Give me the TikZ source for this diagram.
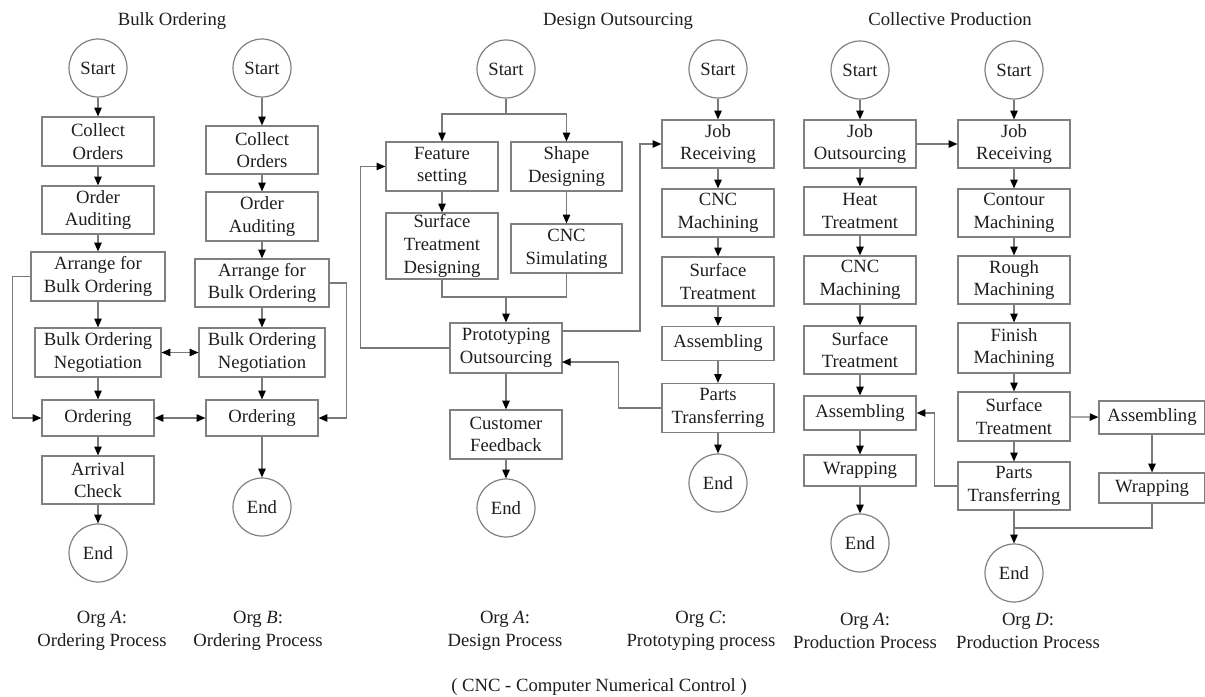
\documentclass[tikz,border=0pt]{standalone}
\usepackage{fontspec}
\setmainfont{Liberation Serif}
\usetikzlibrary{arrows.meta}
\definecolor{boxgray}{HTML}{808080}
\definecolor{linegray}{HTML}{7A7A7A}
\definecolor{txt}{HTML}{1E1E1E}
\newcommand{\fs}{\fontsize{14pt}{17pt}\selectfont}
\tikzset{
  box/.style={draw=boxgray, line width=0.9pt, align=center, inner sep=0pt, font=\fs, text=txt},
  sz/.style 2 args={minimum width=#1*0.75pt, minimum height=#2*0.75pt},
  term/.style={circle, draw=boxgray, line width=0.9pt, minimum size=43.5pt, inner sep=0pt, font=\fs, text=txt},
  tip/.tip={Triangle[length=6.5pt, width=5.5pt, color=black, fill=black]},
  flow/.style={draw=linegray, line width=0.9pt, -tip},
  dflow/.style={draw=linegray, line width=0.9pt, tip-tip},
  link/.style={draw=linegray, line width=0.9pt},
  lbl/.style={align=center, font=\fs, text=txt, inner sep=0pt},
}
\begin{document}
\begin{tikzpicture}[x=0.75pt, y=-0.75pt]
\useasboundingbox (0,0) rectangle (1205,696);

% section titles
\node[lbl] (t1) at (172,21) {Bulk Ordering};
\node[lbl] (t2) at (618,21) {Design Outsourcing};
\node[lbl] (t3) at (950,19) {Collective Production};

% ---------- Org A: ordering process ----------
\node[term] (sA1) at (98,68) {Start};
\node[box, sz={112}{49}] (a1) at (98,141.5) {Collect\\Orders};
\node[box, sz={112}{48}] (a2) at (98,210) {Order\\Auditing};
\node[box, sz={134}{49}] (a3) at (98,276.5) {Arrange for\\Bulk Ordering};
\node[box, sz={126}{49}] (a4) at (98,352.5) {Bulk Ordering\\Negotiation};
\node[box, sz={112}{36}] (a5) at (98,418) {Ordering};
\node[box, sz={112}{48}] (a6) at (98,480) {Arrival\\Check};
\node[term] (eA1) at (98,553) {End};

\draw[flow] (sA1) -- (a1);
\draw[flow] (a1) -- (a2);
\draw[flow] (a2) -- (a3);
\draw[flow] (a3) -- (a4);
\draw[flow] (a4) -- (a5);
\draw[flow] (a5) -- (a6);
\draw[flow] (a6) -- (eA1);
\draw[flow] (a3.west) -- ++(-18,0) |- (a5.west);

% ---------- Org B: ordering process ----------
\node[term] (sB1) at (262,68) {Start};
\node[box, sz={112}{48}] (b1) at (262,150) {Collect\\Orders};
\node[box, sz={112}{49}] (b2) at (262,216.5) {Order\\Auditing};
\node[box, sz={134}{48}] (b3) at (262,283) {Arrange for\\Bulk Ordering};
\node[box, sz={126}{49}] (b4) at (262,352.5) {Bulk Ordering\\Negotiation};
\node[box, sz={112}{36}] (b5) at (262,418) {Ordering};
\node[term] (eB1) at (262,507) {End};

\draw[flow] (sB1) -- (b1);
\draw[flow] (b1) -- (b2);
\draw[flow] (b2) -- (b3);
\draw[flow] (b3) -- (b4);
\draw[flow] (b4) -- (b5);
\draw[flow] (b5) -- (eB1);
\draw[flow] (b3.east) -- ++(17,0) |- (b5.east);
\draw[dflow] (a4.east) -- (b4.west);
\draw[dflow] (a5.east) -- (b5.west);

% ---------- Org A: design process ----------
\node[term] (sA2) at (506,69) {Start};
\node[box, sz={112}{49}] (d1) at (442,166.5) {Feature\\setting};
\node[box, sz={111}{49}] (d2) at (566.5,166.5) {Shape\\Designing};
\node[box, sz={112}{66}] (d3) at (442,246) {Surface\\Treatment\\Designing};
\node[box, sz={111}{49}] (d4) at (566.5,248.5) {CNC\\Simulating};
\node[box, sz={112}{50}] (d5) at (506,348) {Prototyping\\Outsourcing};
\node[box, sz={112}{49}] (d6) at (506,434.5) {Customer\\Feedback};
\node[term] (eA2) at (506,508) {End};

\coordinate (sp) at (506,114);
\coordinate (mg) at (506,297);
\coordinate (d5out) at (562,331);
\coordinate (d5in) at (562,362);

\draw[link] (sA2) -- (sp);
\draw[flow] (sp) -| (d1.north);
\draw[flow] (sp) -| (d2.north);
\draw[flow] (d1) -- (d3);
\draw[flow] (d2) -- (d4);
\draw[link] (d3.south) |- (mg);
\draw[link] (d4.south) |- (mg);
\draw[flow] (mg) -- (d5.north);
\draw[flow] (d5) -- (d6);
\draw[flow] (d6) -- (eA2);
\draw[flow] (d5.west) -- ++(-89,0) |- (d1.west);

% ---------- Org C: prototyping process ----------
\node[term] (sC) at (718,69) {Start};
\node[box, sz={112}{48}] (c1) at (718,144) {Job\\Receiving};
\node[box, sz={112}{48}] (c2) at (718,213) {CNC\\Machining};
\node[box, sz={112}{49}] (c3) at (718,281.5) {Surface\\Treatment};
\node[box, sz={112}{34}] (c4) at (718,343.5) {Assembling};
\node[box, sz={112}{49}] (c5) at (718,408) {Parts\\Transferring};
\node[term] (eC) at (718,483) {End};

\draw[flow] (sC) -- (c1);
\draw[flow] (c1) -- (c2);
\draw[flow] (c2) -- (c3);
\draw[flow] (c3) -- (c4);
\draw[flow] (c4) -- (c5);
\draw[flow] (c5) -- (eC);
\draw[flow] (d5out) -- ++(78,0) |- (c1.west);
\draw[flow] (c5.west) -- ++(-43,0) |- (d5in);

% ---------- Org A: production process ----------
\node[term] (sA3) at (860,70) {Start};
\node[box, sz={112}{48}] (p1) at (860,144) {Job\\Outsourcing};
\node[box, sz={112}{48}] (p2) at (860,211) {Heat\\Treatment};
\node[box, sz={112}{48}] (p3) at (860,280) {CNC\\Machining};
\node[box, sz={112}{48}] (p4) at (860,350) {Surface\\Treatment};
\node[box, sz={112}{34}] (p5) at (860,413) {Assembling};
\node[box, sz={112}{31}] (p6) at (860,470.5) {Wrapping};
\node[term] (eA3) at (860,543) {End};

\draw[flow] (sA3) -- (p1);
\draw[flow] (p1) -- (p2);
\draw[flow] (p2) -- (p3);
\draw[flow] (p3) -- (p4);
\draw[flow] (p4) -- (p5);
\draw[flow] (p5) -- (p6);
\draw[flow] (p6) -- (eA3);

% ---------- Org D: production process ----------
\node[term] (sD) at (1014,70) {Start};
\node[box, sz={112}{48}] (q1) at (1014,144) {Job\\Receiving};
\node[box, sz={112}{48}] (q2) at (1014,213) {Contour\\Machining};
\node[box, sz={112}{48}] (q3) at (1014,280) {Rough\\Machining};
\node[box, sz={112}{50}] (q4) at (1014,348) {Finish\\Machining};
\node[box, sz={112}{49}] (q5) at (1014,416.5) {Surface\\Treatment};
\node[box, sz={112}{48}] (q6) at (1014,486) {Parts\\Transferring};
\node[term] (eD) at (1014,573) {End};
\node[box, sz={106}{33}] (r1) at (1152,417.5) {Assembling};
\node[box, sz={106}{30}] (r2) at (1152,488) {Wrapping};

\coordinate (jn) at (1014,528);

\draw[flow] (sD) -- (q1);
\draw[flow] (q1) -- (q2);
\draw[flow] (q2) -- (q3);
\draw[flow] (q3) -- (q4);
\draw[flow] (q4) -- (q5);
\draw[flow] (q5) -- (q6);
\draw[flow] (q6) -- (eD);
\draw[flow] (p1) -- (q1);
\draw[flow] (q5) -- (r1);
\draw[flow] (r1) -- (r2);
\draw[link] (r2.south) |- (jn);
\draw[flow] (q6.west) -- ++(-23,0) |- (p5.east);

% ---------- captions ----------
\node[lbl] (l1) at (102,631) {Org \textit{A}:\\Ordering Process};
\node[lbl] (l2) at (258,631) {Org \textit{B}:\\Ordering Process};
\node[lbl] (l3) at (505,631) {Org \textit{A}:\\Design Process};
\node[lbl] (l4) at (701,631) {Org \textit{C}:\\Prototyping process};
\node[lbl] (l5) at (865,631) {Org \textit{A}:\\Production Process};
\node[lbl] (l6) at (1028,631) {Org \textit{D}:\\Production Process};
\node[lbl] (note) at (599,687) {( CNC - Computer Numerical Control )};
\end{tikzpicture}
\end{document}
